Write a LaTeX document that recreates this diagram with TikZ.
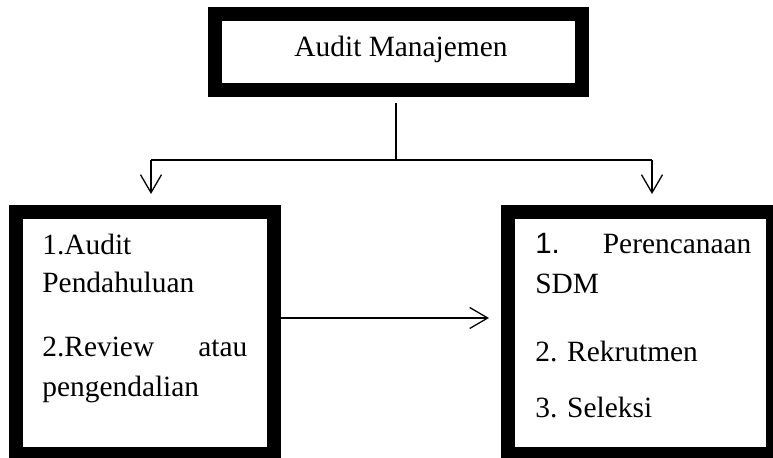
\documentclass[tikz,border=0pt]{standalone}
\usepackage{fontspec}
\setmainfont{Liberation Serif}
\setsansfont{Liberation Sans}
\usetikzlibrary{arrows.meta}

\begin{document}
\begin{tikzpicture}[x=0.5pt,y=-0.5pt,
        box/.style={draw,line width=7pt,outer sep=0pt,inner sep=0pt},
        txt/.style={inner sep=0pt,font=\fontsize{14.7pt}{17pt}\selectfont},
        arr/.style={line width=0.65pt,-{Straight Barb[length=9pt,width=10.5pt]}}]
        \useasboundingbox (0,0) rectangle (773,458);

        % boxes
        \node[box,minimum width=183.5pt,minimum height=37.75pt] (top) at (398,52.25) {};
        \node[box,minimum width=129pt,minimum height=121pt] (left) at (144.5,333) {};
        \node[box,minimum width=132.5pt,minimum height=121pt] (right) at (640.5,333) {};

        % top text
        \node[txt,anchor=base] (ttl) at (401,57) {Audit Manajemen};
        % left text
        \node[txt,anchor=base west] (l1) at (42,255) {1.Audit};
        \node[txt,anchor=base west] (l2) at (42,293) {Pendahuluan};
        \node[txt,anchor=base west] (l3) at (42,357) {\hbox to 102.5pt{2.Review\hfill atau}};
        \node[txt,anchor=base west] (l4) at (42,397) {pengendalian};
        % right text
        \node[txt,anchor=base west] (r1) at (535,254) {\hbox to 108pt{{\sffamily 1.}\hfill Perencanaan}};
        \node[txt,anchor=base west] (r2) at (535,294) {SDM};
        \node[txt,anchor=base west] (r3) at (535,362) {2. Rekrutmen};
        \node[txt,anchor=base west] (r4) at (535,418) {3. Seleksi};

        % connectors
        \coordinate (split) at (396,160);
        \coordinate (lturn) at (151,160);
        \coordinate (rturn) at (652,160);
        \coordinate (link) at (390,318);
        \draw[line width=0.65pt,shorten <=6.5pt] (top.south -| split) -- (split);
        \draw[line width=0.65pt] (lturn) -- (rturn);
        \draw[arr,shorten >=9pt] (lturn) -- (lturn |- left.north);
        \draw[arr,shorten >=9pt] (rturn) -- (rturn |- right.north);
        \draw[arr,shorten <=3.25pt,shorten >=9.5pt] (left.east |- link) -- (right.west |- link);
    \end{tikzpicture}
\end{document}
